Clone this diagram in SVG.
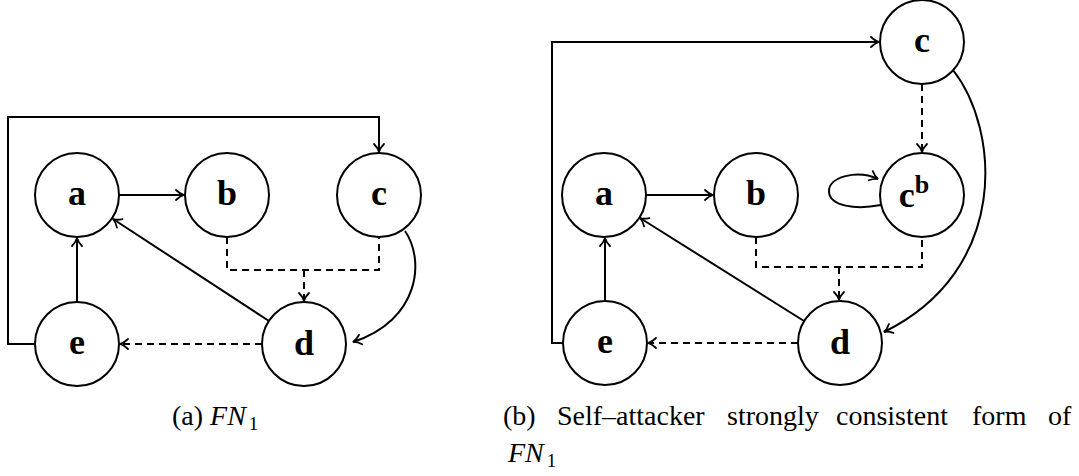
<svg xmlns="http://www.w3.org/2000/svg" width="1079" height="476" viewBox="0 0 1079 476">
<style>
.n{fill:#fff;stroke:#000;stroke-width:2}
.lbl{font-family:'Liberation Serif','Times New Roman',Times,'DejaVu Serif',serif;font-weight:bold;font-size:36px;text-anchor:middle;fill:#000}
.e{fill:none;stroke:#000;stroke-width:2}
.d{stroke-dasharray:7 5}
.cap{font-family:'Liberation Serif','Times New Roman',Times,'DejaVu Serif',serif;font-size:28px;fill:#000}
.it{font-style:italic}
</style>
<defs>
<marker id="arr" viewBox="-10 -7 12 14" refX="0" refY="0" markerWidth="12" markerHeight="14" orient="auto" markerUnits="userSpaceOnUse">
<path d="M-8,-5 C-5,-2 -2,-0.5 0,0 C-2,0.5 -5,2 -8,5" fill="none" stroke="#000" stroke-width="1.8" stroke-linecap="round" stroke-dasharray="none"/>
</marker>
</defs>
<g id="connectors">
<path class="e" d="M35,344 H8 V117 H379 V152" marker-end="url(#arr)"/>
<path class="e" d="M119,195 H184" marker-end="url(#arr)"/>
<path class="e" d="M77,302 V238" marker-end="url(#arr)"/>
<path class="e" d="M269,321 L113,219" marker-end="url(#arr)"/>
<path class="e d" d="M227,237 V270 H379 V237"/>
<path class="e d" d="M304,270 V301" marker-end="url(#arr)"/>
<path class="e d" d="M262,344 H120" marker-end="url(#arr)"/>
<path class="e" d="M405,231 C425,260 420,320 353,342" marker-end="url(#arr)"/>

<path class="e" d="M563,343 H552 V42 H879" marker-end="url(#arr)"/>
<path class="e d" d="M922,84 V152" marker-end="url(#arr)"/>
<path class="e" d="M881,205 C855,210 830,206 829,192 C828,176 858,170 878,179" marker-end="url(#arr)"/>
<path class="e" d="M646,195 H713" marker-end="url(#arr)"/>
<path class="e" d="M605,301 V238" marker-end="url(#arr)"/>
<path class="e" d="M804,321 L640,218" marker-end="url(#arr)"/>
<path class="e d" d="M756,237 V267 H922 V237"/>
<path class="e d" d="M839,267 V300" marker-end="url(#arr)"/>
<path class="e d" d="M798,343 H648" marker-end="url(#arr)"/>
<path class="e" d="M953,70 C1000,130 1010,270 884,332" marker-end="url(#arr)"/>
</g>
<g id="L-a"><circle class="n" cx="77" cy="195" r="42"/><text class="lbl" x="77" y="205">a</text></g>
<g id="L-b"><circle class="n" cx="227" cy="195" r="42"/><text class="lbl" x="227" y="205">b</text></g>
<g id="L-c"><circle class="n" cx="379" cy="195" r="42"/><text class="lbl" x="379" y="205">c</text></g>
<g id="L-d"><circle class="n" cx="304" cy="344" r="42"/><text class="lbl" x="304" y="355">d</text></g>
<g id="L-e"><circle class="n" cx="77" cy="344" r="42"/><text class="lbl" x="77" y="354">e</text></g>

<g id="R-a"><circle class="n" cx="604" cy="195" r="42"/><text class="lbl" x="604" y="205">a</text></g>
<g id="R-b"><circle class="n" cx="756" cy="195" r="42"/><text class="lbl" x="756" y="205">b</text></g>
<g id="R-c"><circle class="n" cx="922" cy="42" r="42"/><text class="lbl" x="922" y="52">c</text></g>
<g id="R-cb"><circle class="n" cx="922" cy="195" r="42"/><text class="lbl" x="914" y="207">c<tspan font-size="26" dy="-14">b</tspan></text></g>
<g id="R-d"><circle class="n" cx="840" cy="343" r="42"/><text class="lbl" x="840" y="354">d</text></g>
<g id="R-e"><circle class="n" cx="605" cy="343" r="42"/><text class="lbl" x="605" y="353">e</text></g>

<g id="captions">
<text class="cap" x="172" y="425">(a) <tspan class="it">FN</tspan><tspan font-size="19" dx="3" dy="5">1</tspan></text>
<text class="cap" y="425"><tspan x="503">(b)</tspan><tspan x="557">Self–attacker</tspan><tspan x="727">strongly</tspan><tspan x="836">consistent</tspan><tspan x="972">form</tspan><tspan x="1048">of</tspan></text>
<text class="cap" x="508" y="462"><tspan class="it">FN</tspan><tspan font-size="19" dx="3" dy="5">1</tspan></text>
</g>
</svg>
